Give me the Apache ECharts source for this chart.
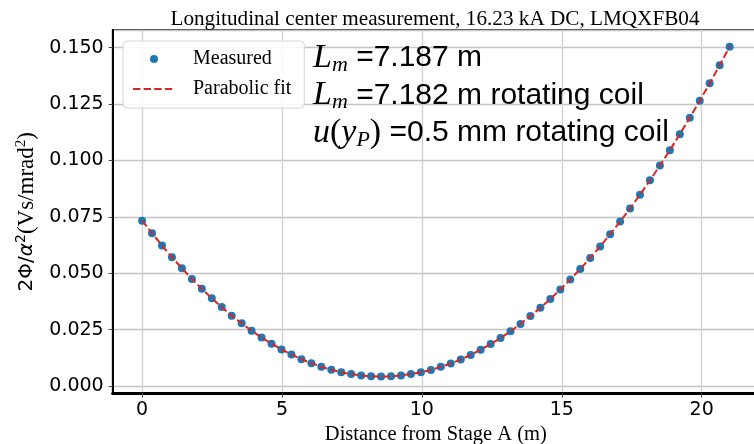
<!DOCTYPE html>
<html><head><meta charset="utf-8">
<script src="https://cdn.jsdelivr.net/npm/echarts@6/dist/echarts.min.js"></script>
<style>html,body{margin:0;padding:0;background:#fff}#c{width:754px;height:444px}</style>
</head><body><div id="c"></div>
<script>
const titleText = 'Longitudinal center measurement, 16.23 kA DC, LMQXFB04';
const xAxisName = 'Distance from Stage A (m)';
const legendNames = ['Measured', 'Parabolic fit'];
const annotLines = [
  '{mi|L}{sub|m}{t| =7.187 m}',
  '{mi|L}{sub|m}{t| =7.182 m rotating coil}',
  '{mi|u}{mr|(}{mi|y}{sub|P}{mr|)}{t| =0.5 mm rotating coil}'
];
const xVals = [0, 0.356, 0.712, 1.068, 1.424, 1.780, 2.136, 2.492, 2.847, 3.203,
  3.559, 3.915, 4.271, 4.627, 4.983, 5.339, 5.695, 6.051, 6.407, 6.763,
  7.119, 7.475, 7.831, 8.186, 8.542, 8.898, 9.254, 9.610, 9.966, 10.322,
  10.678, 11.034, 11.390, 11.746, 12.102, 12.458, 12.814, 13.169, 13.525, 13.881,
  14.237, 14.593, 14.949, 15.305, 15.661, 16.017, 16.373, 16.729, 17.085, 17.441,
  17.797, 18.153, 18.508, 18.864, 19.220, 19.576, 19.932, 20.288, 20.644, 21.0];
const measured = [0.0733, 0.0677, 0.0623, 0.0571, 0.0522, 0.0475, 0.0431, 0.0389, 0.0350, 0.0312,
  0.0278, 0.0245, 0.0215, 0.0188, 0.0162, 0.0140, 0.0119, 0.0101, 0.0086, 0.0072,
  0.0061, 0.0053, 0.0047, 0.0043, 0.0042, 0.0043, 0.0047, 0.0053, 0.0061, 0.0071,
  0.0085, 0.0100, 0.0118, 0.0138, 0.0161, 0.0186, 0.0213, 0.0243, 0.0275, 0.0310,
  0.0347, 0.0386, 0.0428, 0.0472, 0.0519, 0.0568, 0.0619, 0.0673, 0.0729, 0.0787,
  0.0848, 0.0912, 0.0977, 0.1045, 0.1116, 0.1189, 0.1264, 0.1342, 0.1422, 0.1504];
const fitVals = [0.0733, 0.0677, 0.0623, 0.0571, 0.0522, 0.0475, 0.0431, 0.0389, 0.0350, 0.0312,
  0.0278, 0.0245, 0.0215, 0.0188, 0.0162, 0.0140, 0.0119, 0.0101, 0.0086, 0.0072,
  0.0061, 0.0053, 0.0047, 0.0043, 0.0042, 0.0043, 0.0047, 0.0053, 0.0061, 0.0071,
  0.0085, 0.0100, 0.0118, 0.0138, 0.0161, 0.0186, 0.0213, 0.0243, 0.0275, 0.0310,
  0.0347, 0.0386, 0.0428, 0.0472, 0.0519, 0.0568, 0.0619, 0.0673, 0.0729, 0.0787,
  0.0848, 0.0912, 0.0977, 0.1045, 0.1116, 0.1189, 0.1264, 0.1342, 0.1422, 0.1504];

const chart = echarts.init(document.getElementById('c'), null, {renderer: 'canvas'});
const annotRich = {
  mi: {fontFamily: 'Liberation Serif', fontStyle: 'italic', fontSize: 34, lineHeight: 36, color: '#000'},
  mr: {fontFamily: 'Liberation Serif', fontSize: 34, lineHeight: 36, color: '#000'},
  sub: {fontFamily: 'Liberation Serif', fontStyle: 'italic', fontSize: 22, lineHeight: 20, verticalAlign: 'bottom', color: '#000'},
  t: {fontFamily: 'Liberation Sans', fontSize: 30, lineHeight: 36, color: '#000'}
};
const annotTops = [41, 78.5, 116];
chart.setOption({
  animation: false,
  backgroundColor: '#fff',
  title: {
    text: titleText, left: 430, top: 4, textAlign: 'center',
    textStyle: {fontFamily: 'Liberation Serif', fontSize: 21.2, fontWeight: 'normal', color: '#000'}
  },
  grid: {left: 112.7, top: 30, right: -5, bottom: 50.5, show: true, borderColor: '#000', borderWidth: 1.7,
    containLabel: false, outerBoundsMode: 'none'},
  legend: {
    orient: 'vertical', left: 123, top: 41,
    data: [{name: legendNames[0], icon: 'circle'},
           {name: legendNames[1], itemStyle: {color: 'rgba(0,0,0,0)', borderWidth: 0}}],
    itemWidth: 42, itemHeight: 8, itemGap: 10,
    padding: [8, 13, 9, 9],
    backgroundColor: 'rgba(255,255,255,0.85)', borderColor: '#d5d5d5', borderWidth: 1, borderRadius: 4,
    textStyle: {fontFamily: 'Liberation Serif', fontSize: 20, color: '#000', padding: [0, 0, 0, 13]}
  },
  xAxis: {
    type: 'value', min: -1.05, max: 22.05, minInterval: 5, maxInterval: 5, splitNumber: 5,
    name: xAxisName, nameLocation: 'middle', nameGap: 29,
    nameTextStyle: {fontFamily: 'Liberation Serif', fontSize: 20.5, color: '#000'},
    axisLine: {show: true, onZero: false, lineStyle: {color: '#000', width: 3}},
    axisTick: {show: true, length: 4, lineStyle: {color: '#444', width: 1}},
    axisLabel: {show: true, margin: 7, showMinLabel: false, showMaxLabel: false,
      fontFamily: 'DejaVu Sans', fontSize: 19, color: '#000'},
    splitLine: {show: true, lineStyle: {color: '#d0d0d0', width: 1.4}}
  },
  yAxis: {
    type: 'value', min: -0.0033, max: 0.1578, minInterval: 0.025, maxInterval: 0.025, splitNumber: 6,
    name: '{s|2Φ/}{mi|α}{sup|2}{r|(Vs/mrad}{sup2|2}{r|)}',
    nameLocation: 'middle', nameRotate: 90, nameGap: 70,
    nameTextStyle: {
      color: '#000',
      rich: {
        s: {fontFamily: 'DejaVu Sans', fontSize: 20, lineHeight: 26, color: '#000'},
        mi: {fontFamily: 'DejaVu Sans', fontStyle: 'italic', fontSize: 20, lineHeight: 26, color: '#000'},
        sup: {fontFamily: 'DejaVu Sans', fontSize: 14, lineHeight: 14, verticalAlign: 'top', color: '#000'},
        r: {fontFamily: 'Liberation Serif', fontSize: 23, lineHeight: 26, color: '#000'},
        sup2: {fontFamily: 'Liberation Serif', fontSize: 15, lineHeight: 14, verticalAlign: 'top', color: '#000'}
      }
    },
    axisLine: {show: true, onZero: false, lineStyle: {color: '#000', width: 2}},
    axisTick: {show: true, length: 4, lineStyle: {color: '#444', width: 1}},
    axisLabel: {show: true, margin: 9, showMinLabel: false, showMaxLabel: false,
      fontFamily: 'DejaVu Sans', fontSize: 19, color: '#000',
      formatter: v => v.toFixed(3)},
    splitLine: {show: true, lineStyle: {color: '#c4c4c4', width: 1.4}}
  },
  graphic: annotLines.map((txt, i) => ({
    type: 'text', left: 313, top: annotTops[i], z: 10,
    style: {text: txt, rich: annotRich}
  })),
  series: [
    {
      name: legendNames[0], type: 'scatter', symbol: 'circle', symbolSize: 8,
      itemStyle: {color: '#1f77b4', opacity: 1},
      data: xVals.map((x, i) => [x, measured[i]]), z: 2
    },
    {
      name: legendNames[1], type: 'line', symbol: 'none', showSymbol: false,
      lineStyle: {color: '#d62728', width: 2, type: [7.4, 3.2]},
      itemStyle: {color: '#d62728'},
      data: xVals.map((x, i) => [x, fitVals[i]]), z: 3
    }
  ]
});
</script>
</body></html>
